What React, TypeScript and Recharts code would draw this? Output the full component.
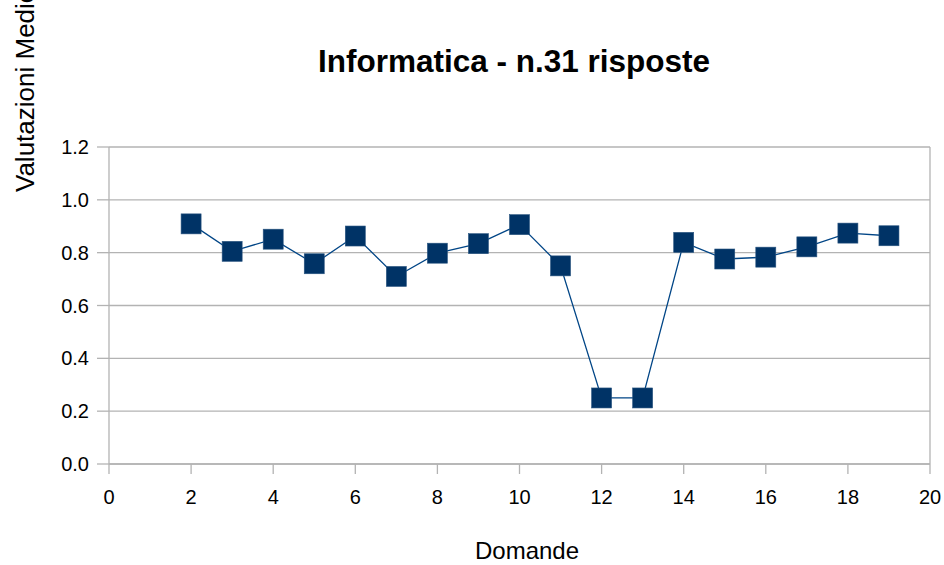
import React from "react";
import { LineChart, Line, XAxis, YAxis, CartesianGrid, ReferenceLine } from "recharts";

const questions = [2, 3, 4, 5, 6, 7, 8, 9, 10, 11, 12, 13, 14, 15, 16, 17, 18, 19];
const ratings = [0.909, 0.805, 0.851, 0.758, 0.863, 0.71, 0.798, 0.834, 0.906, 0.75, 0.25, 0.25, 0.839, 0.776, 0.783, 0.822, 0.874, 0.864];
const xTicks = [0, 2, 4, 6, 8, 10, 12, 14, 16, 18, 20];
const yTicks = [0, 0.2, 0.4, 0.6, 0.8, 1.0, 1.2];
const title = "Informatica - n.31 risposte";
const xLabel = "Domande";
const yLabel = "Valutazioni Medie";

const data = questions.map((q, i) => ({ q, v: ratings[i] }));

const FONT = "'Liberation Sans', Arial, sans-serif";
const GRID = "#b3b3b3";

const SquareDot = (props: any) => {
  const { cx, cy } = props;
  if (cx == null || cy == null) return null;
  return <rect x={cx - 10} y={cy - 10} width={20} height={20} fill="#003366" stroke="#2a5580" strokeWidth={0.6} />;
};

export default function App() {
  return (
    <div style={{ position: "absolute", left: 0, top: 0, width: 944, height: 565, background: "#fff" }}>
      <LineChart
        width={944}
        height={565}
        data={data}
        margin={{ top: 147, right: 14, left: 0, bottom: 0 }}
      >
        <CartesianGrid vertical={false} stroke={GRID} strokeWidth={1.3} />
        <XAxis
          dataKey="q"
          type="number"
          domain={[0, 20]}
          ticks={xTicks}
          interval={0}
          height={101}
          tickSize={10}
          tickMargin={16}
          axisLine={{ stroke: GRID, strokeWidth: 1.3 }}
          tickLine={{ stroke: GRID, strokeWidth: 1.3 }}
          tick={{ fill: "#000", fontSize: 20, fontFamily: FONT }}
        />
        <YAxis
          type="number"
          domain={[0, 1.2]}
          ticks={yTicks}
          interval={0}
          width={109}
          tickSize={12}
          tickMargin={8}
          tickFormatter={(v: number) => v.toFixed(1)}
          axisLine={{ stroke: GRID, strokeWidth: 1.3 }}
          tickLine={{ stroke: GRID, strokeWidth: 1.3 }}
          tick={{ fill: "#000", fontSize: 20, fontFamily: FONT }}
        />
        <ReferenceLine x={20} stroke={GRID} strokeWidth={1.3} />
        <Line
          dataKey="v"
          stroke="#004586"
          strokeWidth={1.3}
          dot={<SquareDot />}
          activeDot={false}
          isAnimationActive={false}
        />
      </LineChart>
      <svg
        width={944}
        height={565}
        style={{ position: "absolute", left: 0, top: 0, pointerEvents: "none", overflow: "hidden" }}
      >
        <text x={514} y={72} textAnchor="middle" fontFamily={FONT} fontWeight="bold" fontSize={31.5} fill="#000">
          {title}
        </text>
        <text x={527} y={559} textAnchor="middle" fontFamily={FONT} fontSize={24} fill="#000">
          {xLabel}
        </text>
        <text
          x={34}
          y={192}
          transform="rotate(-90 34 192)"
          textAnchor="start"
          fontFamily={FONT}
          fontSize={26}
          fill="#000"
        >
          {yLabel}
        </text>
      </svg>
    </div>
  );
}
